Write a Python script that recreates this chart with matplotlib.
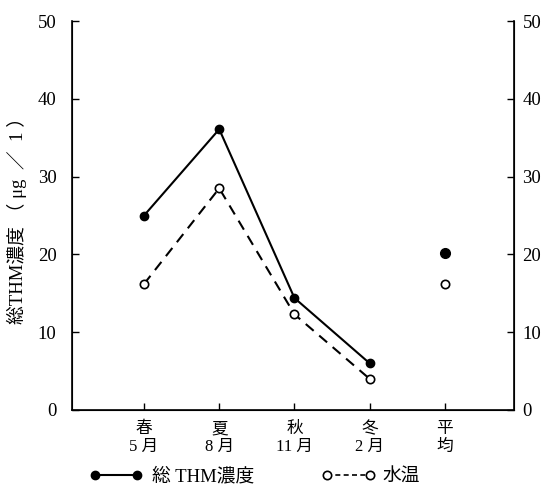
import matplotlib
matplotlib.use("Agg")
import matplotlib.pyplot as plt
from matplotlib.lines import Line2D

plt.rcParams['font.family'] = ['Liberation Serif', 'Noto Sans CJK JP']

# Seasonal sampling: spring(May), summer(Aug), autumn(Nov), winter(Feb)
seasons = ["春\n5 月", "夏\n8 月", "秋\n11 月", "冬\n2 月", "平\n均"]
thm_seasonal = [25.0, 36.1, 14.4, 6.0]     # total THM, µg/l
temp_seasonal = [16.2, 28.5, 12.3, 4.0]    # water temperature, °C
thm_mean = 20.2
temp_mean = 16.2

yticks = [0, 10, 20, 30, 40, 50]

fig = plt.figure(figsize=(5.44, 4.91), dpi=100)
ax = fig.add_axes([0.132, 0.165, 0.813, 0.792])

xs = list(range(1, len(thm_seasonal) + 1))
x_mean = len(seasons)

ax.plot(xs, thm_seasonal, color="black", lw=1.5, marker="o", ms=6,
        mfc="black", mec="black")
ax.plot(xs, temp_seasonal, color="black", lw=1.5, ls=(0, (5, 3.5)),
        marker="o", ms=6, mfc="white", mec="black", mew=1.2)
ax.plot([x_mean], [thm_mean], "o", color="black", ms=7)
ax.plot([x_mean], [temp_mean], "o", mfc="white", mec="black", ms=6, mew=1.2)

ax.set_xlim(0.04, 5.92)
ax.set_ylim(0, 50)
ax.set_xticks(list(range(1, len(seasons) + 1)))
ax.set_xticklabels(seasons, fontsize=12, linespacing=1.15)
ax.set_yticks(yticks)
ax.set_yticklabels([str(v) for v in yticks], fontsize=13.5)
ax.tick_params(axis="y", direction="in", length=5, pad=11, width=1)
ax.tick_params(axis="x", direction="in", length=5, pad=8, width=1)
ax.spines["top"].set_visible(False)
for s in ("left", "bottom"):
    ax.spines[s].set_linewidth(1.2)

ax.set_ylabel("総THM濃度 （ μg  ／  1 ）", fontsize=13.5, labelpad=8)

ax2 = ax.twinx()
ax2.set_ylim(0, 50)
ax2.set_yticks(yticks)
ax2.set_yticklabels([str(v) for v in yticks], fontsize=13.5)
ax2.tick_params(axis="y", direction="in", length=5, pad=6, width=1)
ax2.spines["top"].set_visible(False)
ax2.spines["right"].set_linewidth(1.2)

h1 = Line2D([], [], color="black", lw=1.5, marker="o", ms=6, mfc="black")
h2 = Line2D([], [], color="black", lw=1.2, ls=(0, (3, 2)), marker="o", ms=6,
            mfc="white", mew=1.2)
fig.legend([h1], ["総 THM濃度"], loc="center left",
           bbox_to_anchor=(0.165, 0.029), numpoints=2, frameon=False,
           fontsize=13.5, handlelength=2.8, handletextpad=0.5,
           borderpad=0, borderaxespad=0)
fig.legend([h2], ["水温"], loc="center left",
           bbox_to_anchor=(0.59, 0.029), numpoints=2, frameon=False,
           fontsize=13.5, handlelength=2.9, handletextpad=0.4,
           borderpad=0, borderaxespad=0)

fig.savefig("out.png", dpi=100)
